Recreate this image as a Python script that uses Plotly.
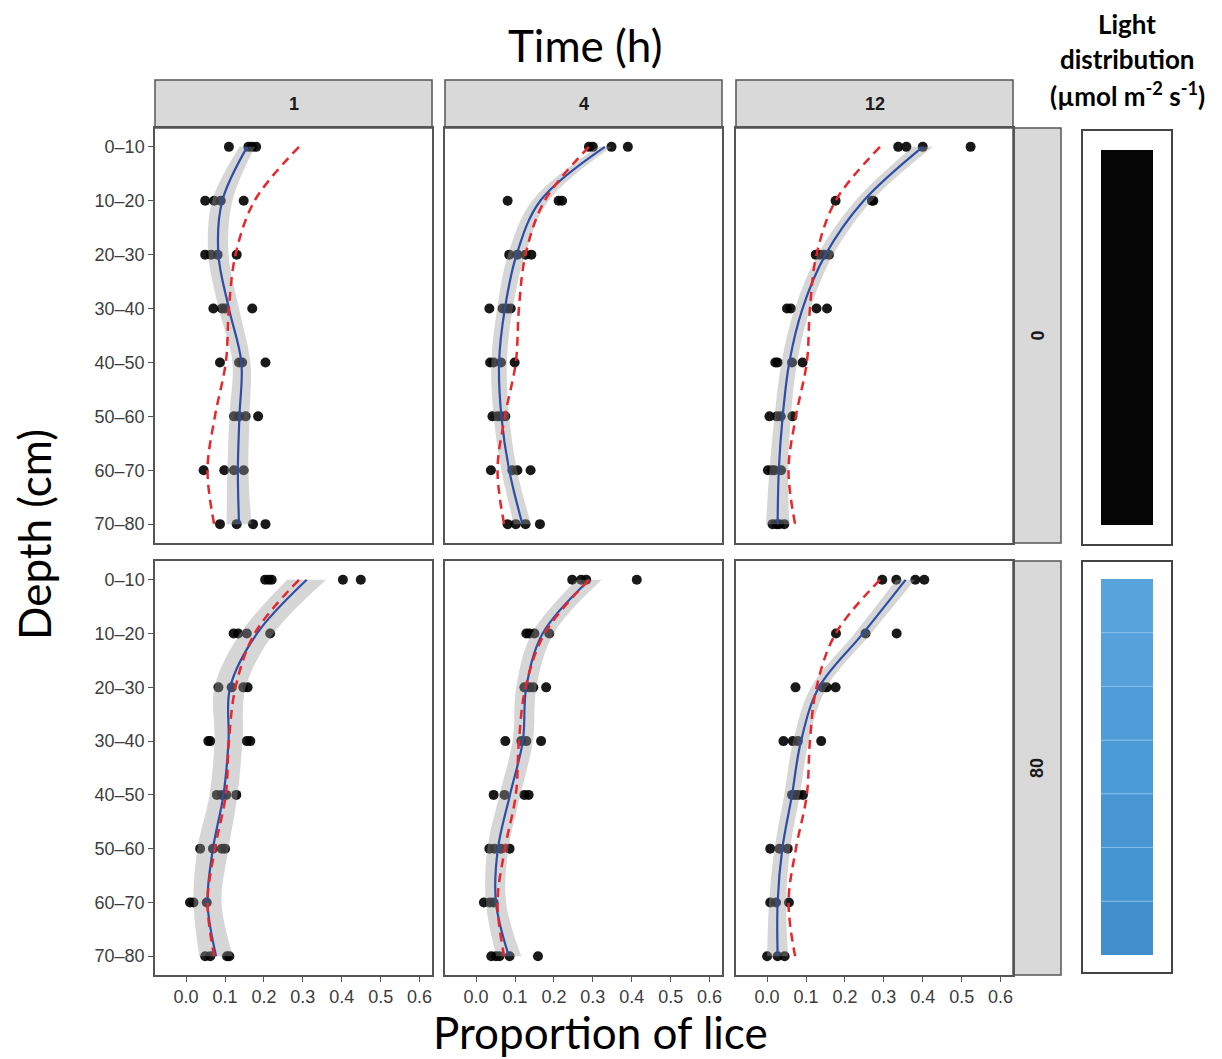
import plotly.graph_objects as go

W, H = 1214, 1051      # figure size (page has an 8px body margin)
OFF = 8                # page offset of the figure

# ---------------- data ----------------
depth_labels = ["0–10", "10–20", "20–30", "30–40", "40–50", "50–60", "60–70", "70–80"]
time_labels = ["1", "4", "12"]
light_labels = ["0", "80"]
x_tick_vals = [0.0, 0.1, 0.2, 0.3, 0.4, 0.5, 0.6]
x_tick_text = ["0.0", "0.1", "0.2", "0.3", "0.4", "0.5", "0.6"]

# observed proportions per depth (light 0)
obs_l0_t1 = [[0.11, 0.16, 0.17, 0.18], [0.049, 0.072, 0.089, 0.148], [0.049, 0.064, 0.081, 0.130],
             [0.070, 0.092, 0.100, 0.170], [0.087, 0.136, 0.144, 0.204], [0.123, 0.136, 0.153, 0.185],
             [0.045, 0.098, 0.123, 0.148], [0.087, 0.130, 0.172, 0.204]]
obs_l0_t4 = [[0.29, 0.30, 0.348, 0.390], [0.081, 0.212, 0.221], [0.085, 0.106, 0.127, 0.142],
             [0.034, 0.068, 0.080, 0.089], [0.036, 0.045, 0.064, 0.099], [0.042, 0.055, 0.064, 0.075],
             [0.038, 0.093, 0.106, 0.140], [0.081, 0.102, 0.127, 0.164]]
obs_l0_t12 = [[0.337, 0.358, 0.400, 0.523], [0.176, 0.269, 0.273], [0.125, 0.135, 0.146, 0.159],
              [0.051, 0.061, 0.127, 0.154], [0.021, 0.027, 0.064, 0.091], [0.006, 0.025, 0.035, 0.065],
              [0.002, 0.012, 0.019, 0.036], [0.014, 0.024, 0.031, 0.044]]
# observed proportions per depth (light 80)
obs_l80_t1 = [[0.203, 0.212, 0.220, 0.403, 0.449], [0.122, 0.134, 0.156, 0.216], [0.083, 0.117, 0.147, 0.158],
              [0.057, 0.062, 0.156, 0.165], [0.079, 0.092, 0.103, 0.129], [0.036, 0.069, 0.092, 0.100],
              [0.010, 0.019, 0.053], [0.049, 0.062, 0.105, 0.111]]
obs_l80_t4 = [[0.247, 0.270, 0.283, 0.413], [0.129, 0.137, 0.150, 0.188], [0.124, 0.137, 0.147, 0.180],
              [0.075, 0.116, 0.129, 0.167], [0.045, 0.073, 0.124, 0.135], [0.034, 0.047, 0.064, 0.086],
              [0.020, 0.035, 0.045], [0.039, 0.051, 0.060, 0.086, 0.159]]
obs_l80_t12 = [[0.296, 0.332, 0.381, 0.404], [0.177, 0.253, 0.333], [0.073, 0.143, 0.153, 0.176],
               [0.042, 0.066, 0.079, 0.139], [0.064, 0.072, 0.080, 0.092], [0.008, 0.032, 0.053],
               [0.008, 0.023, 0.056], [0.000, 0.027, 0.045]]

# smoothed fits (blue) and half-width of confidence band
fit_l0_t1 = [0.157, 0.093, 0.083, 0.110, 0.142, 0.137, 0.133, 0.136]
fit_l0_t4 = [0.331, 0.165, 0.104, 0.074, 0.059, 0.065, 0.085, 0.119]
fit_l0_t12 = [0.400, 0.248, 0.150, 0.091, 0.057, 0.040, 0.030, 0.027]
fit_l80_t1 = [0.310, 0.182, 0.113, 0.109, 0.096, 0.069, 0.055, 0.077]
fit_l80_t4 = [0.291, 0.171, 0.129, 0.120, 0.087, 0.056, 0.051, 0.084]
fit_l80_t12 = [0.356, 0.246, 0.133, 0.087, 0.064, 0.039, 0.027, 0.027]

band_l0_t1 = [0.020, 0.026, 0.026, 0.026, 0.023, 0.026, 0.027, 0.032]
band_l0_t4 = [0.018, 0.021, 0.022, 0.020, 0.020, 0.020, 0.020, 0.022]
band_l0_t12 = [0.026, 0.021, 0.020, 0.020, 0.020, 0.021, 0.024, 0.030]
band_l80_t1 = [0.050, 0.043, 0.040, 0.036, 0.036, 0.040, 0.036, 0.043]
band_l80_t4 = [0.032, 0.028, 0.026, 0.026, 0.027, 0.027, 0.026, 0.032]
band_l80_t12 = [0.024, 0.021, 0.020, 0.020, 0.020, 0.020, 0.022, 0.027]

# reference distribution (red dashed)
reference_profile = [0.290, 0.176, 0.127, 0.110, 0.102, 0.074, 0.055, 0.072]

observations = [[obs_l0_t1, obs_l0_t4, obs_l0_t12], [obs_l80_t1, obs_l80_t4, obs_l80_t12]]
fits = [[fit_l0_t1, fit_l0_t4, fit_l0_t12], [fit_l80_t1, fit_l80_t4, fit_l80_t12]]
bands = [[band_l0_t1, band_l0_t4, band_l0_t12], [band_l80_t1, band_l80_t4, band_l80_t12]]

# light schematic colours (style)
dark_bar_color = "#050505"
light_bar_colors = ["#58a3dc", "#56a1db", "#4e9dd8", "#4b9bd6", "#4796d3", "#4595d2", "#4190cb"]

# ---------------- layout geometry (page pixels) ----------------
col_px = [(155, 432), (445, 722), (736, 1013)]
row_px = [(128, 543), (561, 975)]
strip_top_px = (80, 128)
strip_right_px = (1013, 1061)
light_box_px = (1082, 1172)


def px(x):
    return (x - OFF) / W


def py(y):
    return 1 - (y - OFF) / H


X_RANGE = [-0.08, 0.632]
Y_RANGE = [7.35, -0.35]
ypos = list(range(len(depth_labels)))

fig = go.Figure()
layout_axes = {}
tick_font = dict(family="Liberation Sans Narrow, Arial Narrow, sans-serif", size=18, color="#3d3d3d")

for r in range(2):
    for c in range(3):
        n = r * 3 + c + 1
        xa = "x" if n == 1 else f"x{n}"
        ya = "y" if n == 1 else f"y{n}"
        # points
        px_list, py_list = [], []
        for i, vals in enumerate(observations[r][c]):
            for v in vals:
                px_list.append(v)
                py_list.append(i)
        fig.add_trace(go.Scatter(x=px_list, y=py_list, mode="markers", xaxis=xa, yaxis=ya,
                                 marker=dict(color="black", size=10, opacity=0.9),
                                 showlegend=False, hoverinfo="skip"))
        fit = fits[r][c]
        bw = bands[r][c]
        lower = [f - b for f, b in zip(fit, bw)]
        upper = [f + b for f, b in zip(fit, bw)]
        fig.add_trace(go.Scatter(x=lower, y=ypos, mode="lines", xaxis=xa, yaxis=ya,
                                 line=dict(width=0, shape="spline", smoothing=1.0),
                                 showlegend=False, hoverinfo="skip"))
        fig.add_trace(go.Scatter(x=upper, y=ypos, mode="lines", xaxis=xa, yaxis=ya,
                                 line=dict(width=0, shape="spline", smoothing=1.0),
                                 fill="tonextx", fillcolor="rgba(153,153,153,0.4)",
                                 showlegend=False, hoverinfo="skip"))
        fig.add_trace(go.Scatter(x=fit, y=ypos, mode="lines", xaxis=xa, yaxis=ya,
                                 line=dict(color="#2c4fa5", width=2.2, shape="spline", smoothing=1.0),
                                 showlegend=False, hoverinfo="skip"))
        fig.add_trace(go.Scatter(x=reference_profile, y=ypos, mode="lines", xaxis=xa, yaxis=ya,
                                 line=dict(color="#e8262b", width=2.5, dash="9px,6px",
                                           shape="spline", smoothing=1.0),
                                 showlegend=False, hoverinfo="skip"))

        x0, x1 = col_px[c]
        y0, y1 = row_px[r]
        bottom = r == 1
        left = c == 0
        layout_axes["xaxis" if n == 1 else f"xaxis{n}"] = dict(
            domain=[px(x0), px(x1)], range=X_RANGE, anchor=ya,
            tickvals=x_tick_vals, ticktext=x_tick_text, showticklabels=bottom,
            ticks="outside" if bottom else "", ticklen=5, tickcolor="#555", tickwidth=1.2,
            tickfont=tick_font, showline=True, mirror=True, linecolor="#555", linewidth=1.5,
            showgrid=False, zeroline=False, fixedrange=True)
        layout_axes["yaxis" if n == 1 else f"yaxis{n}"] = dict(
            domain=[py(y1), py(y0)], range=Y_RANGE, anchor=xa,
            tickvals=ypos, ticktext=depth_labels, showticklabels=left,
            ticks="outside" if left else "", ticklen=5, tickcolor="#555", tickwidth=1.2,
            tickfont=tick_font, showline=True, mirror=True, linecolor="#555", linewidth=1.5,
            showgrid=False, zeroline=False, fixedrange=True)

shapes = []
annotations = []
strip_font = dict(family="Liberation Sans, Arial, sans-serif", size=18, color="#1a1a1a")

# top strips
for c, lab in enumerate(time_labels):
    x0, x1 = col_px[c]
    shapes.append(dict(type="rect", xref="paper", yref="paper", x0=px(x0), x1=px(x1),
                       y0=py(strip_top_px[1]), y1=py(strip_top_px[0]),
                       fillcolor="#d9d9d9", line=dict(color="#555", width=1.5), layer="below"))
    annotations.append(dict(text=f"<b>{lab}</b>", xref="paper", yref="paper",
                            x=px((x0 + x1) / 2), y=py(sum(strip_top_px) / 2),
                            showarrow=False, font=strip_font, xanchor="center", yanchor="middle"))
# right strips
for r, lab in enumerate(light_labels):
    y0, y1 = row_px[r]
    shapes.append(dict(type="rect", xref="paper", yref="paper", x0=px(strip_right_px[0]),
                       x1=px(strip_right_px[1]), y0=py(y1), y1=py(y0),
                       fillcolor="#d9d9d9", line=dict(color="#555", width=1.5), layer="below"))
    annotations.append(dict(text=f"<b>{lab}</b>", xref="paper", yref="paper",
                            x=px(sum(strip_right_px) / 2), y=py((y0 + y1) / 2), textangle=-90,
                            showarrow=False, font=strip_font, xanchor="center", yanchor="middle"))

# light schematic
box_rows = [(130, 545), (561, 973)]
bar_x = (1101, 1153)
for r in range(2):
    b0, b1 = box_rows[r]
    shapes.append(dict(type="rect", xref="paper", yref="paper", x0=px(light_box_px[0]),
                       x1=px(light_box_px[1]), y0=py(b1), y1=py(b0),
                       fillcolor="white", line=dict(color="#444", width=2)))
# dark bar (light level 0)
shapes.append(dict(type="rect", xref="paper", yref="paper", x0=px(bar_x[0]), x1=px(bar_x[1]),
                   y0=py(525), y1=py(150), fillcolor=dark_bar_color, line=dict(width=0)))
# blue segmented bar (light level 80)
seg_top, seg_bot = 579, 955
nseg = len(light_bar_colors)
seg_h = (seg_bot - seg_top) / nseg
for i, col in enumerate(light_bar_colors):
    t = seg_top + i * seg_h
    shapes.append(dict(type="rect", xref="paper", yref="paper", x0=px(bar_x[0]), x1=px(bar_x[1]),
                       y0=py(t + seg_h), y1=py(t), fillcolor=col, line=dict(width=0)))
    if i > 0:
        shapes.append(dict(type="line", xref="paper", yref="paper", x0=px(bar_x[0]), x1=px(bar_x[1]),
                           y0=py(t), y1=py(t), line=dict(color="#86bde8", width=1)))

title_font = dict(family="Lato, Open Sans, sans-serif", size=44, color="black")
annotations.append(dict(text="Time (h)", xref="paper", yref="paper", x=px(585), y=py(45),
                        showarrow=False, font=title_font, xanchor="center", yanchor="middle"))
annotations.append(dict(text="Proportion of lice", xref="paper", yref="paper", x=px(600), y=py(1032),
                        showarrow=False, font=title_font, xanchor="center", yanchor="middle"))
annotations.append(dict(text="Depth (cm)", xref="paper", yref="paper", x=px(34), y=py(535),
                        textangle=-90, showarrow=False, font=title_font,
                        xanchor="center", yanchor="middle"))

light_font = dict(family="Lato, Open Sans, sans-serif", size=26, color="black")
for txt, yy in [("<b>Light</b>", 24), ("<b>distribution</b>", 59),
                ("<b>(µmol m<sup>-2</sup> s<sup>-1</sup>)</b>", 95)]:
    annotations.append(dict(text=txt, xref="paper", yref="paper", x=px(1127), y=py(yy),
                            showarrow=False, font=light_font, xanchor="center", yanchor="middle"))

fig.update_layout(width=W, height=H, margin=dict(l=0, r=0, t=0, b=0),
                  paper_bgcolor="white", plot_bgcolor="white",
                  shapes=shapes, annotations=annotations, showlegend=False, **layout_axes)

fig.write_html("out.html")
